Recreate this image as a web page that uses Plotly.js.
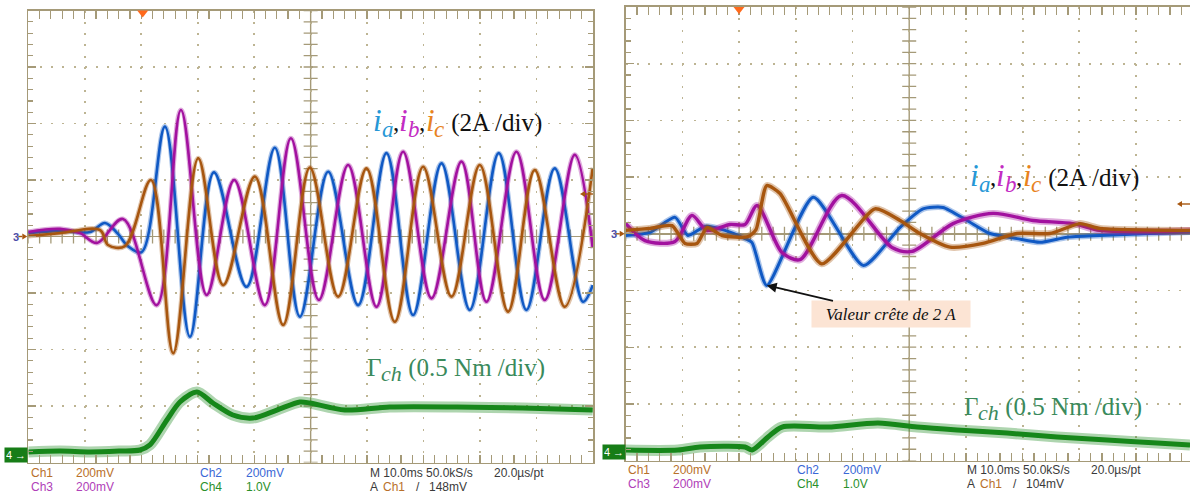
<!DOCTYPE html>
<html><head><meta charset="utf-8">
<script src="https://cdn.plot.ly/plotly-3.0.1.min.js"></script>
<style>html,body{margin:0;padding:0;background:#fff;} #chart{width:1190px;height:494px;}</style>
</head><body><div id="chart"></div>
<script>
// ---------- LEFT PANEL (time in ms, currents in A, torque in Nm) ----------
const tBlueL = [0, 5.61, 10.92, 13.58, 15.88, 17.65, 20.07, 24.20, 28.62, 32.87, 38.65, 43.66, 48.09, 53.10, 58.41, 63.43, 68.14, 73.17, 78.18, 83.31, 88.21, 93.22, 98.23, 99.95];
const iBlueL = [0.12, 0.20, 0.16, 0.48, 0.09, -0.34, -0.55, 3.89, -3.55, 2.27, -1.78, 3.14, -2.84, 2.29, -2.43, 2.95, -2.78, 2.59, -2.60, 2.95, -2.60, 2.41, -2.31, -1.72];
const tMagL = [0, 5.61, 9.15, 12.16, 16.76, 22.73, 27.03, 31.58, 36.46, 41.89, 46.50, 51.45, 56.64, 61.66, 66.37, 71.40, 76.71, 81.13, 86.44, 91.45, 96.76, 99.95];
const iMagL = [0.16, 0.27, 0.12, -0.23, 0.62, -2.43, 4.48, -2.07, 2.00, -2.43, 3.48, -2.25, 2.53, -2.49, 3.00, -2.19, 2.65, -2.31, 3.00, -2.25, 2.89, -0.41];
const tBrnL = [0, 5.61, 12.69, 14.11, 17.12, 21.72, 25.66, 30.09, 34.51, 40.12, 45.13, 49.86, 54.87, 59.89, 64.90, 69.91, 74.94, 79.95, 84.96, 89.68, 94.99, 99.95];
const iBrnL = [0.02, 0.12, 0.23, -0.30, -0.34, 2.00, -4.13, 2.77, -1.72, 2.12, -3.13, 2.44, -2.13, 2.41, -3.02, 2.47, -2.13, 2.53, -2.66, 2.35, -2.49, 2.43];
const tTqL = [0, 5.61, 10.92, 16.23, 19.77, 21.54, 24.55, 26.85, 29.86, 32.69, 36.23, 39.77, 44.02, 48.09, 49.86, 56.05, 64.0, 75.87, 87.56, 99.95];
const qTqL = [0.027, 0.035, 0.027, 0.035, 0.044, 0.089, 0.310, 0.469, 0.558, 0.460, 0.354, 0.327, 0.398, 0.469, 0.460, 0.398, 0.425, 0.425, 0.416, 0.398];

// ---------- RIGHT PANEL ----------
const tBlueR = [0, 4.29, 8.70, 10.99, 13.99, 17.51, 21.04, 22.28, 24.87, 33.09, 41.91, 48.38, 52.43, 55.96, 60.19, 64.25, 69.01, 73.07, 77.83, 83.65, 92.47, 99.53];
const iBlueR = [-0.06, 0.05, 0.58, -0.06, 0.26, 0.12, -0.17, -0.31, -1.82, 1.29, -1.12, 0.23, 0.88, 0.93, 0.47, 0.01, -0.17, -0.30, -0.12, -0.06, 0.01, 0.06];
const tMagR = [0, 3.40, 8.70, 11.69, 14.34, 18.40, 21.04, 23.16, 27.57, 30.75, 38.10, 46.97, 50.50, 57.73, 64.79, 71.84, 78.89, 83.65, 92.47, 99.53];
const iMagR = [0.36, -0.24, -0.27, 0.65, 0.12, 0.33, 0.33, 1.00, -0.66, -0.91, 1.35, -0.48, -0.62, 0.36, 0.72, 0.47, 0.36, 0.12, 0.08, 0.12];
const tBrnR = [0, 4.29, 8.17, 10.46, 12.58, 14.34, 16.98, 21.57, 22.98, 24.87, 27.22, 34.57, 43.97, 48.38, 51.90, 57.20, 63.02, 69.01, 74.83, 80.12, 83.65, 99.53];
const iBrnR = [0.12, 0.19, 0.29, -0.34, -0.34, 0.22, -0.06, -0.10, 0.15, 1.70, 1.42, -1.06, 0.88, 0.47, 0.01, -0.47, -0.34, 0.01, 0.01, 0.36, 0.19, 0.12];
const tTqR = [0, 9.22, 13.10, 21.04, 22.28, 25.10, 27.57, 35.68, 44.50, 51.38, 58.43, 67.25, 76.07, 84.88, 93.70, 99.53];
const qTqR = [0.020, 0.020, 0.047, 0.047, 0.020, 0.135, 0.223, 0.223, 0.258, 0.223, 0.197, 0.170, 0.135, 0.108, 0.082, 0.064];

// ---------- labels ----------
const chLabels = ["Ch1", "Ch3", "Ch2", "Ch4"];
const chScales = ["200mV", "200mV", "200mV", "1.0V"];
const timebase = "M 10.0ms 50.0kS/s";
const perPoint = "20.0\u00b5s/pt";
const trigLevels = ["148mV", "104mV"];
const currentUnit = " (2A /div)";
const torqueUnit = " (0.5 Nm /div)";
const calloutText = "Valeur cr\u00eate de 2 A";

// ---------- geometry helpers ----------
const W = 1190, H = 494;
const px = x => x / W, py = y => 1 - y / H;
const GRAT = '#a59a78', GRID = '#bdb493';
const C_BLUE = '#1059c4', C_MAG = '#a2119f', C_BRN = '#a7560f', C_GRN = '#16871a';
const CH_COL = ['#b8702a', '#b040b8', '#3a68d6', '#2a902a'];
const SERIF_NAME = 'Liberation Serif';
const SERIF = 'Liberation Serif, Times New Roman, serif';
const SANS = 'Liberation Sans, Arial, sans-serif';

const panels = [
  {x0: 28.3, x1: 593, y0: 10.5, y1: 462.5, xr: [0, 100], tref: 455, sfx: ''},
  {x0: 625.7, x1: 1190, y0: 7, y1: 460.6, xr: [0, 99.52], tref: 452.3, sfx: '2'}
];

function axisX(p, idx) {
  return {
    domain: [px(p.x0), px(p.x1)], range: p.xr, anchor: idx ? 'y2' : 'y',
    showline: true, linecolor: GRAT, linewidth: 1.6, mirror: 'allticks',
    ticks: 'inside', ticklen: 8, tickwidth: 1.3, tickcolor: GRAT, dtick: 10, tick0: 0,
    showticklabels: false, showgrid: true, gridcolor: GRID, gridwidth: 1.8, griddash: '2px,9.3px',
    zeroline: false, fixedrange: true,
    minor: {ticks: 'inside', dtick: 2, tick0: 0, ticklen: 5, tickwidth: 1.2, tickcolor: GRAT, showgrid: false}
  };
}
function axisY(p, idx) {
  return {
    domain: [py(p.y1), py(p.y0)], range: [-8, 8], anchor: idx ? 'x2' : 'x',
    showline: true, linecolor: GRAT, linewidth: 1.6, mirror: idx ? false : 'allticks',
    ticks: 'inside', ticklen: 8, tickwidth: 1.3, tickcolor: GRAT, dtick: 2, tick0: 0,
    showticklabels: false, showgrid: true, gridcolor: GRID, gridwidth: 1.8, griddash: '2px,9.3px',
    zeroline: true, zerolinecolor: GRAT, zerolinewidth: 1.4, fixedrange: true,
    minor: {ticks: 'inside', dtick: 0.4, tick0: 0, ticklen: 5, tickwidth: 1.2, tickcolor: GRAT, showgrid: false}
  };
}
function torqueAxis(p, idx) {
  const off = ((p.y0 + p.y1) / 2 - p.tref) / ((p.y1 - p.y0) / 8);
  return {overlaying: idx ? 'y2' : 'y', anchor: idx ? 'x2' : 'x', range: [(-4 - off) * 0.5, (4 - off) * 0.5], visible: false, fixedrange: true};
}

const traces = [];
const shapes = [];
panels.forEach((p, k) => {
  const xa = 'x' + p.sfx, ya = 'y' + p.sfx;
  const hx = [], hy = [], vx = [], vy = [];
  for (let t = 0; t <= p.xr[1] + 0.001; t += 2) { hx.push(t); hy.push(0); }
  for (let v = -8; v <= 8.001; v += 0.4) { vx.push(50); vy.push(v); }
  traces.push({x: hx, y: hy, xaxis: xa, yaxis: ya, mode: 'markers', hoverinfo: 'skip', showlegend: false,
    marker: {symbol: 'line-ns', size: 10, line: {color: GRAT, width: 1.3}}});
  traces.push({x: vx, y: vy, xaxis: xa, yaxis: ya, mode: 'markers', hoverinfo: 'skip', showlegend: false,
    marker: {symbol: 'line-ew', size: 10, line: {color: GRAT, width: 1.3}}});
  shapes.push({type: 'line', xref: xa, yref: ya, x0: 50, x1: 50, y0: -8, y1: 8, line: {color: GRAT, width: 1.4}, layer: 'below'});
});

// each waveform: a faint wide halo (scope persistence/noise band) under a solid core
function wave(x, y, color, xa, ya, w, sm, halo) {
  const base = {x: x, y: y, xaxis: xa, yaxis: ya, mode: 'lines', hoverinfo: 'skip', showlegend: false};
  traces.push(Object.assign({}, base, {opacity: 0.35, line: {color: color, width: halo, shape: 'spline', smoothing: sm}}));
  traces.push(Object.assign({}, base, {line: {color: color, width: w, shape: 'spline', smoothing: sm}}));
}
wave(tBlueL, iBlueL, C_BLUE, 'x', 'y', 2.6, 1, 5);
wave(tMagL, iMagL, C_MAG, 'x', 'y', 2.6, 1, 5);
wave(tBrnL, iBrnL, C_BRN, 'x', 'y', 2.6, 1, 5);
wave(tTqL, qTqL, C_GRN, 'x', 'y3', 5, 0.8, 11);
wave(tBlueR, iBlueR, C_BLUE, 'x2', 'y2', 3, 0.6, 6);
wave(tMagR, iMagR, C_MAG, 'x2', 'y2', 3.4, 0.8, 7);
wave(tBrnR, iBrnR, C_BRN, 'x2', 'y2', 3.4, 0.6, 7);
wave(tTqR, qTqR, C_GRN, 'x2', 'y4', 5, 0.8, 11);

function arrowShape(tipX, tipY, dx, len, color) {
  const tailX = tipX + dx * len, hl = 5, hw = 3;
  shapes.push({type: 'path', xref: 'paper', yref: 'paper',
    path: `M ${px(tailX)} ${py(tipY)} L ${px(tipX + dx * hl)} ${py(tipY)}`, line: {color: color, width: 1.4}});
  shapes.push({type: 'path', xref: 'paper', yref: 'paper',
    path: `M ${px(tipX)} ${py(tipY)} L ${px(tipX + dx * hl)} ${py(tipY - hw)} L ${px(tipX + dx * hl)} ${py(tipY + hw)} Z`,
    fillcolor: color, line: {width: 0}});
}

// ---------- annotations ----------
const anns = [];
function txt(x, y, text, size, color, family, extra) {
  return Object.assign({xref: 'paper', yref: 'paper', x: px(x), y: py(y), text: text, showarrow: false,
    xanchor: 'left', yanchor: 'middle', font: {size: size, color: color, family: family}}, extra || {});
}
const ctx = document.createElement('canvas').getContext('2d');
function richLabel(x, baseline, parts) {
  let cx = x;
  parts.forEach(pt => {
    ctx.font = `${pt.it ? 'italic ' : ''}${pt.s}px "${SERIF_NAME}"`;
    const w = ctx.measureText(pt.t).width;
    const mid = baseline + (pt.dy || 0) - 0.3375 * pt.s;
    anns.push({xref: 'paper', yref: 'paper', x: px(cx), y: py(mid), xanchor: 'left', yanchor: 'middle',
      text: pt.it ? `<i>${pt.t}</i>` : pt.t, showarrow: false, borderpad: 0, borderwidth: 0,
      font: {size: pt.s, color: pt.c, family: SERIF}});
    cx += w;
  });
}
function iParts() {
  return [
    {t: 'i', s: 31, it: true, c: '#2697d6'}, {t: 'a', s: 23, it: true, c: '#2697d6', dy: 6},
    {t: ',', s: 25, c: '#111'},
    {t: 'i', s: 31, it: true, c: '#c32cc3'}, {t: 'b', s: 23, it: true, c: '#c32cc3', dy: 6},
    {t: ',', s: 25, c: '#111'},
    {t: 'i', s: 31, it: true, c: '#e8831e'}, {t: 'c', s: 23, it: true, c: '#e8831e', dy: 6},
    {t: currentUnit, s: 25, c: '#111'}
  ];
}
function gParts() {
  const g = '#3a8a5c';
  return [{t: '\u0393', s: 25, c: g}, {t: 'ch', s: 22, it: true, c: g, dy: 5}, {t: torqueUnit, s: 25, c: g}];
}
richLabel(373, 131, iParts());
richLabel(367, 376, gParts());
richLabel(970, 186, iParts());
richLabel(964, 415, gParts());

const offs = [0, 597.4];
const dys = [0, -2.6];
panels.forEach((p, k) => {
  const o = offs[k], d = dys[k];
  anns.push(txt(29 + o, 473 + d, chLabels[0], 12, CH_COL[0], SANS));
  anns.push(txt(74 + o, 473 + d, chScales[0], 12, CH_COL[0], SANS));
  anns.push(txt(29 + o, 487 + d, chLabels[1], 12, CH_COL[1], SANS));
  anns.push(txt(74 + o, 487 + d, chScales[1], 12, CH_COL[1], SANS));
  anns.push(txt(198 + o, 473 + d, chLabels[2], 12, CH_COL[2], SANS));
  anns.push(txt(244 + o, 473 + d, chScales[2], 12, CH_COL[2], SANS));
  anns.push(txt(198 + o, 487 + d, chLabels[3], 12, CH_COL[3], SANS));
  anns.push(txt(244 + o, 487 + d, chScales[3], 12, CH_COL[3], SANS));
  anns.push(txt(368 + o, 473 + d, timebase, 12, '#3a3a3a', SANS));
  anns.push(txt(492 + o, 473 + d, perPoint, 12, '#3a3a3a', SANS));
  anns.push(txt(368 + o, 487 + d, 'A', 12, '#3a3a3a', SANS));
  anns.push(txt(381 + o, 487 + d, 'Ch1', 12, CH_COL[0], SANS));
  anns.push(txt(414 + o, 487 + d, '/', 12, '#3a3a3a', SANS));
  anns.push(txt(427 + o, 487 + d, trigLevels[k], 12, '#3a3a3a', SANS));
  const cy = (p.y0 + p.y1) / 2;
  anns.push(txt(p.x0 - 17, cy, '<b>3</b>', 11, '#4d4da8', SANS));
  arrowShape(p.x0 - 1, cy, -1, 9, C_BRN);
  anns.push({xref: 'paper', yref: 'paper', x: px(p.x0), y: py(p.tref), xanchor: 'right', yanchor: 'middle',
    text: '4 \u2192', showarrow: false, bgcolor: '#177d17', width: 20, height: 12, borderpad: 1,
    font: {size: 11, color: '#ffffff', family: SANS}});
});
anns.push({xref: 'x2', yref: 'y2', x: tBlueR[8], y: iBlueR[8], ax: 124, ay: 29, axref: 'pixel', ayref: 'pixel',
  text: `<i>${calloutText}</i>`, showarrow: true, arrowhead: 2, arrowsize: 1.1, arrowwidth: 1.8,
  arrowcolor: '#111', bgcolor: '#fce4d4', width: 152, height: 20, borderpad: 3,
  font: {size: 17, color: '#111', family: SERIF}});
arrowShape(580, 194, 1, 13, C_BRN);
arrowShape(1177, 204, 1, 13, C_BRN);

[[142.7, 10.5], [739, 7]].forEach(([cx, ty]) => {
  shapes.push({type: 'path', xref: 'paper', yref: 'paper',
    path: `M ${px(cx - 5.5)} ${py(ty)} L ${px(cx + 5.5)} ${py(ty)} L ${px(cx)} ${py(ty + 7)} Z`,
    fillcolor: '#ff6a1c', line: {width: 0}});
});

const layout = {
  width: W, height: H, margin: {l: 0, r: 0, t: 0, b: 0},
  paper_bgcolor: '#ffffff', plot_bgcolor: '#ffffff', showlegend: false,
  font: {family: SANS},
  xaxis: axisX(panels[0], 0), yaxis: axisY(panels[0], 0),
  xaxis2: axisX(panels[1], 1), yaxis2: axisY(panels[1], 1),
  yaxis3: torqueAxis(panels[0], 0), yaxis4: torqueAxis(panels[1], 1),
  annotations: anns, shapes: shapes
};
Plotly.newPlot('chart', traces, layout, {staticPlot: true, displayModeBar: false});
</script>
</body></html>
